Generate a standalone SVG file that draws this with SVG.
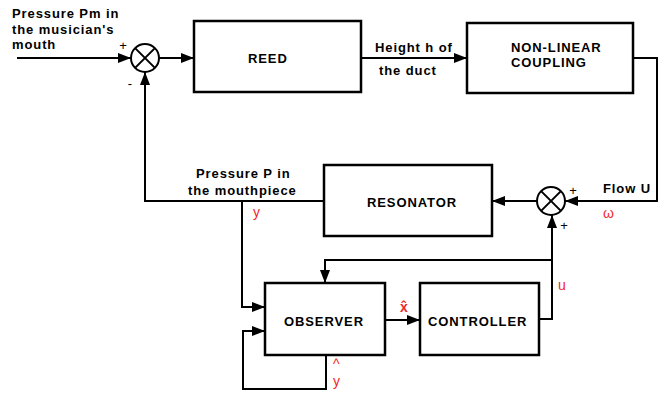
<svg xmlns="http://www.w3.org/2000/svg" width="665" height="393" viewBox="0 0 665 393">
<style>
.box{fill:#fff;stroke:#000;stroke-width:2.5}
.ln{fill:none;stroke:#000;stroke-width:2}
.arr{marker-end:url(#ah)}
.t{font-family:"Liberation Sans",Arial,sans-serif;font-size:13px;font-weight:bold;letter-spacing:0.9px;fill:#000}
.s{font-family:"Liberation Sans",Arial,sans-serif;font-size:13px;fill:#000}
.r{font-family:"Liberation Sans",Arial,sans-serif;font-size:14px;fill:#f02828}
.sum{fill:#fff;stroke:#000;stroke-width:2}
</style>
<defs>
<marker id="ah" markerUnits="userSpaceOnUse" markerWidth="14" markerHeight="10" refX="13" refY="5" orient="auto">
<path d="M0,0 L13,5 L0,10 z" fill="#000"/>
</marker>
</defs>
<rect width="665" height="393" fill="#fff"/>
<g id="connectors">
<path class="ln arr" d="M17,58 H131"/>
<path class="ln arr" d="M159,58 H194"/>
<path class="ln arr" d="M361,58 H467"/>
<path class="ln arr" d="M633,58 H657 V201 H565"/>
<path class="ln arr" d="M537,201 H492"/>
<path class="ln arr" d="M324,201 H145 V72"/>
<path class="ln arr" d="M242,201 V307 H265"/>
<path class="ln arr" d="M539,319 H552 V215"/>
<path class="ln arr" d="M552,260 H325 V283"/>
<path class="ln arr" d="M385,320 H420"/>
<path class="ln arr" d="M326,355 V389 H243 V331 H265"/>
</g>
<g id="sum1">
<circle class="sum" cx="145" cy="58" r="14"/>
<path class="ln" d="M135.1,48.1 L154.9,67.9 M154.9,48.1 L135.1,67.9"/>
<text class="s" x="123" y="50" text-anchor="middle">+</text>
<text class="s" x="130" y="88" text-anchor="middle">-</text>
</g>
<g id="sum2">
<circle class="sum" cx="551" cy="201" r="14"/>
<path class="ln" d="M541.1,191.1 L560.9,210.9 M560.9,191.1 L541.1,210.9"/>
<text class="s" x="573" y="195" text-anchor="middle">+</text>
<text class="s" x="564" y="230" text-anchor="middle">+</text>
</g>
<g id="reed">
<rect class="box" x="194" y="21" width="167" height="71"/>
<text class="t" x="248" y="63">REED</text>
</g>
<g id="nonlinear">
<rect class="box" x="467" y="23" width="166" height="70"/>
<text class="t" x="511" y="52">NON-LINEAR</text>
<text class="t" x="511" y="67">COUPLING</text>
</g>
<g id="resonator">
<rect class="box" x="324" y="165" width="168" height="71"/>
<text class="t" x="367" y="207">RESONATOR</text>
</g>
<g id="observer">
<rect class="box" x="265" y="283" width="120" height="72"/>
<text class="t" x="284" y="326">OBSERVER</text>
</g>
<g id="controller">
<rect class="box" x="420" y="283" width="119" height="72"/>
<text class="t" x="428" y="326">CONTROLLER</text>
</g>
<g id="labels">
<text class="t" x="12" y="18">Pressure Pm in</text>
<text class="t" x="12" y="34">the musician's</text>
<text class="t" x="12" y="49">mouth</text>
<text class="t" x="375" y="52">Height h of</text>
<text class="t" x="379" y="75">the duct</text>
<text class="t" x="603" y="193">Flow U</text>
<text class="t" x="196" y="178">Pressure P in</text>
<text class="t" x="188" y="195">the mouthpiece</text>
<text class="r" x="253" y="217">y</text>
<text class="r" x="603" y="218">ω</text>
<text class="r" x="558" y="290">u</text>
<text class="r" x="400" y="312" font-weight="bold">x̂</text>
<text class="r" x="333" y="369" font-size="11">^</text>
<text class="r" x="333" y="386">y</text>
</g>
</svg>
